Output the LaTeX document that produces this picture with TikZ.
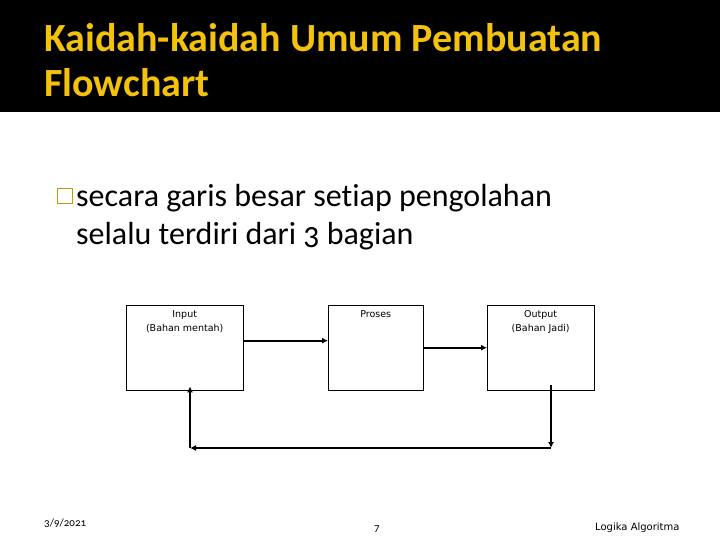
\documentclass[tikz,border=0pt]{standalone}
\usepackage{fontspec}
\setmainfont{Carlito}[Numbers=OldStyle, Ligatures=NoCommon]
\newfontfamily\boxfont{DejaVu Sans}
\usetikzlibrary{positioning, arrows.meta}

\definecolor{titlegold}{RGB}{244,194,13}

\tikzset{
  blk/.style    = {draw, black, thin, fill=white, minimum width=117, minimum height=85, anchor=north west, inner sep=0},
  lbl/.style    = {font=\boxfont\fontsize{9.5}{14}\selectfont, align=center, inner sep=0, anchor=north},
  arr/.style    = {line width=2pt, -{Latex[length=6pt, width=6pt]}},
  foot/.style   = {font=\fontsize{11}{12}\selectfont, inner sep=0, anchor=base west}
}

\begin{document}
\begin{tikzpicture}[x=1pt, y=-1pt]

\useasboundingbox (0,0) rectangle (720,540);

% title band
\fill[black] (0,0) rectangle (720,112);
\node[font=\bfseries\fontsize{40}{45}\selectfont, text=titlegold, align=left, anchor=base west, inner sep=0] (title) at (44,97)
  {Kaidah-kaidah Umum Pembuatan\\Flowchart};

% bullet text
\draw[titlegold!80!black, fill=white, line width=1pt] (57,189) rectangle (72,204);
\node[font=\fontsize{32}{38}\selectfont, align=left, anchor=base west, inner sep=0] (bullet) at (76,244)
  {secara garis besar setiap pengolahan\\selalu terdiri dari 3 bagian};

% the three blocks
\node[blk] (input)  at (126,305) {};
\node[blk, minimum width=95] (proses) at (328,305) {};
\node[blk, minimum width=107] (output) at (487,305) {};

\node[lbl, below=5pt of input.north]  (inputtxt)  {Input\\(Bahan mentah)};
\node[lbl, below=5pt of proses.north] (prosestxt) {Proses};
\node[lbl, below=5pt of output.north] (outputtxt) {Output\\(Bahan Jadi)};

% feedback corners
\coordinate (loopR) at (551,448);
\coordinate (loopL) at (190,448);

\draw[arr] ([yshift=7pt]input.east) -- ([yshift=7pt]proses.west);
\draw[arr] (proses.east) -- (output.west);

\draw[arr] ([yshift=5pt]output.south -| loopR) -- (loopR);
\draw[arr] (loopR) -- (loopL);
\draw[arr] (loopL) -- ([yshift=4pt]input.south -| loopL);

% footer
\node[foot] (date) at (44,526) {3/9/2021};
\node[foot] (page) at (374,531) {7};
\node[foot, font=\boxfont\fontsize{10}{12}\selectfont] (course) at (595,530) {Logika Algoritma};

\end{tikzpicture}
\end{document}
